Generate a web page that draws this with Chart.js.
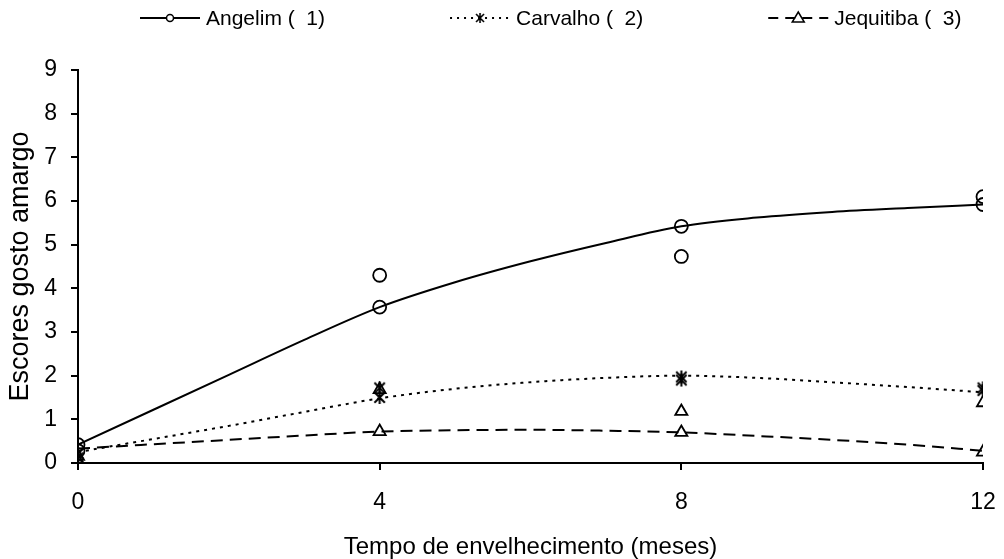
<!DOCTYPE html>
<html>
<head>
<meta charset="utf-8">
<title>Escores gosto amargo</title>
<script src="https://cdn.jsdelivr.net/npm/chart.js@4/dist/chart.umd.min.js"></script>
<style>
    html, body { margin: 0; background: #fff; }
    #wrap { width: 1004px; height: 559px; }
</style>
</head>
<body>
<div id="wrap"><canvas id="agingChart"></canvas></div>
<script>
// Wood types
const seriesNames = ["Angelim (  1)", "Carvalho (  2)", "Jequitiba (  3)"];

// Axis ticks
const monthTicks = [0, 4, 8, 12];
const scoreTicks = [0, 1, 2, 3, 4, 5, 6, 7, 8, 9];

// Observed scores (two replicates per sampling month)
const obsMonths = [0, 0, 4, 4, 8, 8, 12, 12];
const angelimObs = [0.42, 0.28, 4.30, 3.57, 5.42, 4.73, 6.10, 5.92];
const carvalhoObs = [0.22, 0.12, 1.72, 1.50, 1.97, 1.90, 1.72, 1.66];
const jequitibaObs = [0.15, 0.05, 1.68, 0.72, 1.18, 0.70, 1.38, 0.25];

// Fitted trend lines
const fitMonths = [0, 1, 2, 3, 4, 5, 6, 7, 8, 9, 10, 11, 12];
const angelimFit = [0.42, 1.22, 2.02, 2.82, 3.57, 4.14, 4.62, 5.04, 5.42, 5.62, 5.75, 5.84, 5.92];
const carvalhoFit = [0.25, 0.55, 0.85, 1.17, 1.48, 1.70, 1.85, 1.95, 2.00, 1.95, 1.85, 1.74, 1.62];
const jequitibaFit = [0.33, 0.43, 0.53, 0.63, 0.72, 0.75, 0.76, 0.74, 0.70, 0.62, 0.53, 0.42, 0.28];

const FONT = "'Liberation Sans', Arial, sans-serif";
const ink = "#000";

function toPoints(xs, ys) {
    return xs.map((x, i) => ({ x: x, y: ys[i] }));
}

// Excel-like asterisk marker
function makeAsterisk(size, width) {
    const c = document.createElement("canvas");
    c.width = size; c.height = size;
    const g = c.getContext("2d");
    const m = size / 2, r = size / 2 - 1;
    g.strokeStyle = ink;
    g.lineWidth = width;
    g.beginPath();
    g.moveTo(m, m - r); g.lineTo(m, m + r);
    g.moveTo(m - r * 0.8, m - r * 0.8); g.lineTo(m + r * 0.8, m + r * 0.8);
    g.moveTo(m + r * 0.8, m - r * 0.8); g.lineTo(m - r * 0.8, m + r * 0.8);
    g.stroke();
    return c;
}
const asterisk = makeAsterisk(15, 2);
const smallAsterisk = makeAsterisk(12, 1.6);

const lineStyles = [
    { dash: [], legendDash: [], marker: "circle" },
    { dash: [3, 5], legendDash: [2, 5], marker: "asterisk" },
    { dash: [12, 7], legendDash: [10, 7], marker: "triangle" }
];

function obsDataset(label, ys, style) {
    return {
        label: label,
        data: toPoints(obsMonths, ys),
        showLine: false,
        pointStyle: style.marker === "asterisk" ? asterisk : style.marker,
        pointRadius: style.marker === "triangle" ? 7 : 6.5,
        pointBorderWidth: 1.8,
        pointBorderColor: ink,
        pointBackgroundColor: "rgba(0,0,0,0)",
        order: 1
    };
}

function fitDataset(label, ys, style) {
    return {
        label: label + " fit",
        data: toPoints(fitMonths, ys),
        showLine: true,
        borderColor: ink,
        borderWidth: 2,
        borderDash: style.dash,
        cubicInterpolationMode: "monotone",
        pointRadius: 0,
        order: 2
    };
}

// Legend drawn above the plot: line sample with marker, then the label
const sampleLegend = {
    id: "sampleLegend",
    afterDraw(chart) {
        const ctx = chart.ctx;
        const lineLen = 60, gap = 6, itemGap = 125, y = 18;
        ctx.save();
        ctx.font = "21px " + FONT;
        ctx.textBaseline = "middle";
        const widths = seriesNames.map(n => lineLen + gap + ctx.measureText(n).width);
        let x = 140;
        seriesNames.forEach((name, i) => {
            const st = lineStyles[i];
            ctx.strokeStyle = ink;
            ctx.lineWidth = 2;
            ctx.setLineDash(st.legendDash);
            ctx.beginPath();
            ctx.moveTo(x, y);
            ctx.lineTo(x + lineLen, y);
            ctx.stroke();
            ctx.setLineDash([]);
            const mx = x + lineLen / 2;
            ctx.lineWidth = 1.5;
            if (st.marker === "circle") {
                ctx.fillStyle = "#fff";
                ctx.beginPath();
                ctx.arc(mx, y, 3.5, 0, Math.PI * 2);
                ctx.fill();
                ctx.stroke();
            } else if (st.marker === "asterisk") {
                ctx.drawImage(smallAsterisk, mx - 6, y - 6);
            } else {
                ctx.beginPath();
                ctx.moveTo(mx, y - 6);
                ctx.lineTo(mx + 6, y + 4);
                ctx.lineTo(mx - 6, y + 4);
                ctx.closePath();
                ctx.stroke();
            }
            ctx.fillStyle = ink;
            ctx.textAlign = "left";
            ctx.fillText(name, x + lineLen + gap, y + 1);
            x += widths[i] + itemGap;
        });
        ctx.restore();
    }
};

const datasets = [
    fitDataset(seriesNames[0], angelimFit, lineStyles[0]),
    fitDataset(seriesNames[1], carvalhoFit, lineStyles[1]),
    fitDataset(seriesNames[2], jequitibaFit, lineStyles[2]),
    obsDataset(seriesNames[0], angelimObs, lineStyles[0]),
    obsDataset(seriesNames[1], carvalhoObs, lineStyles[1]),
    obsDataset(seriesNames[2], jequitibaObs, lineStyles[2])
];

new Chart(document.getElementById("agingChart"), {
    type: "scatter",
    data: { datasets: datasets },
    options: {
        responsive: true,
        maintainAspectRatio: false,
        animation: false,
        layout: { padding: { top: 70, right: 21, bottom: 0, left: 0 } },
        plugins: {
            legend: { display: false },
            tooltip: { enabled: false }
        },
        scales: {
            x: {
                type: "linear",
                min: 0,
                max: 12,
                afterFit(scale) {
                    scale.height = 96;
                    scale.paddingLeft = 0;
                    scale.paddingRight = 0;
                },
                afterBuildTicks(scale) { scale.ticks = monthTicks.map(v => ({ value: v })); },
                border: { display: true, color: ink, width: 2 },
                grid: { drawOnChartArea: false, color: ink, lineWidth: 2, tickLength: 7 },
                ticks: { color: ink, padding: 19, maxRotation: 0, font: { family: FONT, size: 23 } },
                title: {
                    display: true,
                    text: "Tempo de envelhecimento (meses)",
                    color: ink,
                    padding: { top: 0, bottom: 0 },
                    font: { family: FONT, size: 24, lineHeight: 1 }
                }
            },
            y: {
                min: 0,
                max: 9,
                afterFit(scale) { scale.width = 78; },
                afterBuildTicks(scale) { scale.ticks = scoreTicks.map(v => ({ value: v })); },
                border: { display: true, color: ink, width: 2 },
                grid: { drawOnChartArea: false, color: ink, lineWidth: 2, tickLength: 7 },
                ticks: { color: ink, padding: 14, font: { family: FONT, size: 23 } },
                title: {
                    display: true,
                    text: "Escores gosto amargo",
                    color: ink,
                    padding: { top: 4, bottom: 0 },
                    font: { family: FONT, size: 27 }
                }
            }
        }
    },
    plugins: [sampleLegend]
});
</script>
</body>
</html>
